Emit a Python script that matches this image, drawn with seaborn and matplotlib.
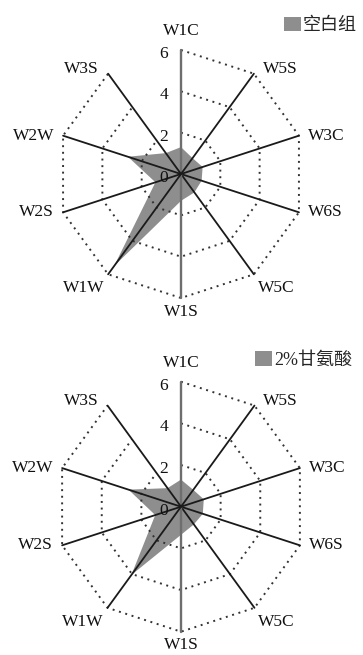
import numpy as np
import pandas as pd
import matplotlib
matplotlib.use("Agg")
import matplotlib.pyplot as plt
from matplotlib.patches import Patch
import seaborn as sns

# Electronic-nose sensor responses (G/G0), one radar per treatment
sensors = ["W1C", "W5S", "W3C", "W6S", "W5C", "W1S", "W1W", "W2S", "W2W", "W3S"]
blank_group = [1.3, 0.95, 1.1, 1.05, 1.1, 1.3, 5.5, 1.3, 2.7, 1.25]
glycine_group = [1.3, 1.0, 1.15, 1.1, 1.05, 1.35, 4.05, 1.3, 2.65, 1.1]
group_names = ["空白组", "2%甘氨酸"]
ring_values = [2, 4, 6]
radial_ticks = [0, 2, 4, 6]

sns.set_theme(style="white")
plt.rcParams["font.family"] = ["Liberation Serif", "Noto Sans CJK SC", "DejaVu Sans"]

FILL = "#8e8e8e"
TEXT = "#111111"
RMAX = 6
LABEL_SIZE = 12.5

fig = plt.figure(figsize=(3.63, 6.55), dpi=100)
W, H = 363, 655


def add_radar(center, radius_px):
    cx, cy = center
    ax = fig.add_axes([(cx - radius_px) / W, 1 - (cy + radius_px) / H,
                       2 * radius_px / W, 2 * radius_px / H], projection="polar")
    ax.set_theta_zero_location("N")
    ax.set_theta_direction(-1)
    ax.set_ylim(0, RMAX)
    ax.grid(False)
    ax.set_xticks([])
    ax.set_yticks([])
    ax.spines["polar"].set_visible(False)
    ax.patch.set_alpha(0)
    return ax


def draw_radar(ax, values, name, legend_anchor):
    n = len(sensors)
    theta = np.arange(n) * 2 * np.pi / n
    closed = np.append(theta, theta[0])

    # data polygon
    vals = np.append(values, values[0])
    ax.fill(closed, vals, color=FILL, lw=0, zorder=1)

    # dotted decagon rings
    for r in ring_values:
        ring = pd.DataFrame({"theta": closed, "r": np.full(n + 1, r)})
        sns.lineplot(data=ring, x="theta", y="r", sort=False, ax=ax,
                     color="#333333", lw=1.4, linestyle=(0, (1.0, 2.4)),
                     zorder=2, clip_on=False)

    # spokes
    for t in theta:
        vertical = abs(np.sin(t)) < 1e-6
        ax.plot([t, t], [0, RMAX], color="#6e6e6e" if vertical else "#1a1a1a",
                lw=1.7 if vertical else 1.3, zorder=3, clip_on=False)

    # category labels
    for lab, t in zip(sensors, theta):
        s, c = np.sin(t), np.cos(t)
        if abs(s) < 0.1:
            ha, dx, dy = "center", 0, (19 if c > 0 else -13.5)
        else:
            sign = 1 if s > 0 else -1
            ha = "left" if s > 0 else "right"
            if c > 0.5:
                dx, dy = 9 * sign, 4.5
            elif c < -0.5:
                dx, dy = 4 * sign, -14
            else:
                dx, dy = 9 * sign, 0
        ax.annotate(lab, xy=(t, RMAX), xytext=(dx, dy), textcoords="offset pixels",
                    ha=ha, va="center", fontsize=LABEL_SIZE, color=TEXT,
                    annotation_clip=False)

    # radial tick labels along the first axis
    for r in radial_ticks:
        ax.annotate(str(r), xy=(0, r), xytext=(-17, -4), textcoords="offset pixels",
                    ha="center", va="center", fontsize=LABEL_SIZE, color=TEXT,
                    annotation_clip=False)

    fig.legend(handles=[Patch(facecolor=FILL, edgecolor="none")], labels=[name],
               loc="center left", bbox_to_anchor=legend_anchor,
               frameon=False, borderpad=0, borderaxespad=0,
               handlelength=0.95, handleheight=0.85, handletextpad=0.1,
               prop={"family": ["Liberation Serif", "Noto Sans CJK SC"], "size": 13})


ax_top = add_radar((181, 174), 124)
draw_radar(ax_top, blank_group, group_names[0], (284 / W, 1 - 25.5 / H))

ax_bot = add_radar((181, 506.7), 125)
draw_radar(ax_bot, glycine_group, group_names[1], (255 / W, 1 - 360 / H))

fig.savefig("out.png", dpi=100)
